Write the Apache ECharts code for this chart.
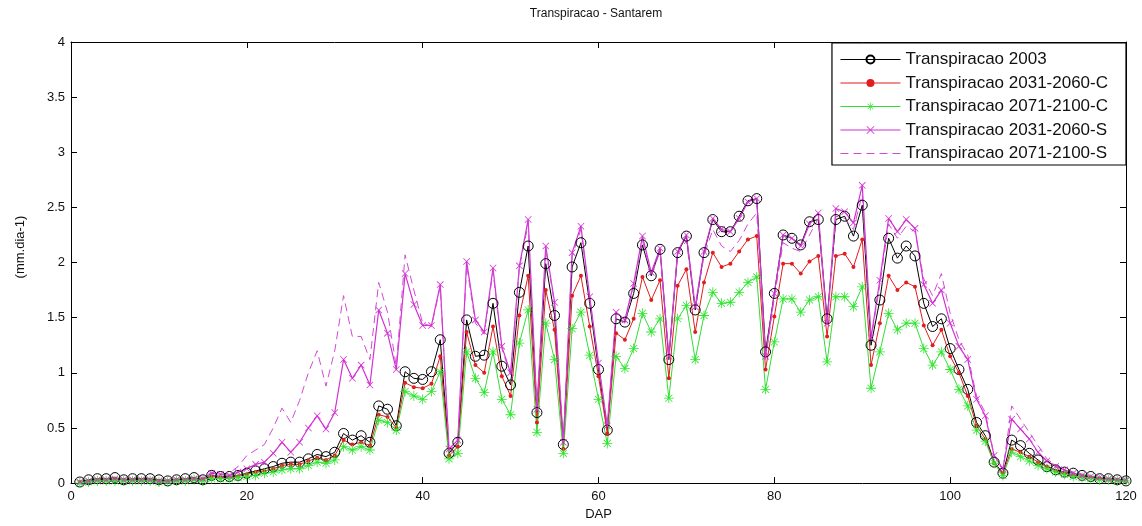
<!DOCTYPE html>
<html>
<head>
<meta charset="utf-8">
<script src="https://cdn.jsdelivr.net/npm/echarts@6/dist/echarts.min.js"></script>
<style>
  html, body { margin: 0; padding: 0; background: #fff; }
  #chart { width: 1142px; height: 526px; }
</style>
</head>
<body>
<div id="chart"></div>
<script>
// day after planting (DAP), one point per day
var days = [];
for (var d = 1; d <= 120; d++) days.push(d);

var names = [
    'Transpiracao 2003',
    'Transpiracao 2031-2060-C',
    'Transpiracao 2071-2100-C',
    'Transpiracao 2031-2060-S',
    'Transpiracao 2071-2100-S'
];

var trans2003 = [
    0.01,0.03,0.04,0.04,0.05,0.03,0.04,0.04,0.04,0.03,
    0.02,0.03,0.04,0.05,0.03,0.07,0.06,0.06,0.07,0.09,
    0.11,0.13,0.15,0.18,0.19,0.19,0.22,0.26,0.24,0.28,
    0.45,0.39,0.43,0.37,0.70,0.67,0.52,1.01,0.95,0.94,
    1.01,1.30,0.27,0.37,1.48,1.15,1.16,1.63,1.06,0.89,
    1.73,2.15,0.64,1.99,1.52,0.35,1.96,2.18,1.63,1.03,
    0.48,1.49,1.46,1.72,2.16,1.88,2.12,1.12,2.09,2.24,
    1.57,2.09,2.39,2.28,2.28,2.42,2.56,2.58,1.19,1.72,
    2.25,2.22,2.16,2.37,2.39,1.49,2.39,2.42,2.24,2.52,
    1.25,1.66,2.22,2.04,2.15,2.06,1.63,1.42,1.49,1.22,
    1.03,0.85,0.55,0.43,0.19,0.09,0.39,0.34,0.27,0.21,
    0.15,0.12,0.10,0.09,0.07,0.06,0.04,0.04,0.03,0.02
];

var trans3160C = [
    0.01,0.02,0.03,0.03,0.04,0.03,0.03,0.03,0.03,0.02,
    0.02,0.03,0.03,0.04,0.03,0.06,0.05,0.05,0.06,0.08,
    0.10,0.11,0.13,0.16,0.17,0.17,0.20,0.23,0.21,0.25,
    0.39,0.35,0.37,0.34,0.62,0.60,0.50,0.91,0.87,0.86,
    0.90,1.15,0.25,0.33,1.37,1.07,1.00,1.42,0.97,0.79,
    1.52,1.88,0.55,1.75,1.39,0.31,1.70,1.88,1.42,0.97,
    0.45,1.36,1.30,1.49,1.87,1.66,1.84,0.95,1.79,1.94,
    1.37,1.82,2.09,1.96,1.99,2.10,2.21,2.24,1.03,1.51,
    1.99,1.99,1.90,2.01,2.06,1.33,2.06,2.08,1.96,2.21,
    1.07,1.45,1.88,1.75,1.82,1.78,1.43,1.25,1.39,1.15,
    1.00,0.79,0.52,0.40,0.18,0.09,0.31,0.28,0.24,0.19,
    0.15,0.11,0.09,0.07,0.06,0.05,0.04,0.03,0.03,0.02
];

var trans71100C = [
    0.00,0.01,0.02,0.02,0.02,0.02,0.02,0.02,0.02,0.01,
    0.01,0.02,0.02,0.03,0.02,0.04,0.04,0.04,0.05,0.06,
    0.07,0.09,0.10,0.12,0.13,0.13,0.16,0.19,0.18,0.21,
    0.33,0.30,0.33,0.30,0.57,0.55,0.48,0.83,0.79,0.76,
    0.83,1.01,0.22,0.27,1.19,0.95,0.82,1.19,0.76,0.62,
    1.27,1.57,0.46,1.45,1.12,0.27,1.40,1.55,1.16,0.76,
    0.36,1.15,1.04,1.22,1.54,1.37,1.49,0.77,1.49,1.61,
    1.12,1.52,1.73,1.63,1.64,1.73,1.82,1.87,0.85,1.28,
    1.67,1.67,1.55,1.66,1.69,1.10,1.69,1.69,1.60,1.78,
    0.86,1.19,1.54,1.39,1.45,1.45,1.22,1.07,1.19,1.03,
    0.85,0.70,0.48,0.38,0.18,0.07,0.28,0.24,0.20,0.16,
    0.13,0.10,0.08,0.06,0.05,0.04,0.03,0.03,0.02,0.02
];

var trans3160S = [
    0.01,0.02,0.03,0.03,0.04,0.03,0.03,0.03,0.03,0.02,
    0.02,0.03,0.03,0.04,0.04,0.09,0.08,0.07,0.10,0.13,
    0.17,0.19,0.27,0.37,0.28,0.37,0.50,0.61,0.49,0.64,
    1.12,0.95,1.07,0.89,1.57,1.36,1.03,1.90,1.62,1.43,
    1.43,1.80,0.31,0.39,2.01,1.48,1.37,1.95,1.24,1.00,
    1.97,2.39,0.67,2.15,1.64,0.37,2.09,2.33,1.69,1.09,
    0.52,1.55,1.48,1.81,2.24,1.91,2.13,1.15,2.10,2.25,
    1.60,2.10,2.40,2.30,2.28,2.40,2.55,2.58,1.15,1.72,
    2.25,2.22,2.15,2.35,2.45,1.45,2.49,2.46,2.36,2.70,
    1.32,1.84,2.40,2.28,2.39,2.31,1.80,1.63,1.75,1.45,
    1.24,1.12,0.76,0.61,0.25,0.13,0.58,0.49,0.40,0.28,
    0.20,0.15,0.12,0.09,0.07,0.06,0.05,0.04,0.03,0.03
];

var trans71100S = [
    0.01,0.02,0.03,0.03,0.04,0.03,0.03,0.03,0.03,0.02,
    0.02,0.03,0.03,0.04,0.05,0.10,0.08,0.09,0.15,0.25,
    0.30,0.35,0.50,0.68,0.55,0.75,1.00,1.20,0.88,1.20,
    1.70,1.33,1.33,1.12,1.82,1.55,1.06,2.07,1.75,1.45,
    1.42,1.78,0.30,0.36,1.98,1.45,1.35,1.92,1.22,0.98,
    1.95,2.35,0.66,2.12,1.62,0.36,2.06,2.30,1.67,1.08,
    0.50,1.52,1.45,1.78,2.20,1.88,2.10,1.13,2.07,2.20,
    1.58,2.06,2.30,2.15,2.10,2.20,2.35,2.45,1.12,1.68,
    2.18,2.13,2.10,2.25,2.40,1.42,2.42,2.40,2.30,2.62,
    1.30,1.80,2.35,2.22,2.33,2.28,1.85,1.70,1.90,1.54,
    1.30,1.16,0.79,0.64,0.25,0.12,0.70,0.58,0.46,0.34,
    0.22,0.16,0.12,0.10,0.08,0.06,0.05,0.04,0.03,0.03
];

var FONT = "'Liberation Sans', Arial, sans-serif";
var asterisk = 'path://M9.2,0 L10.8,0 L10.8,20 L9.2,20 Z M0,9.2 L20,9.2 L20,10.8 L0,10.8 Z ' +
    'M2.4,3.5 L3.5,2.4 L17.6,16.5 L16.5,17.6 Z M16.5,2.4 L17.6,3.5 L3.5,17.6 L2.4,16.5 Z';
var cross = 'path://M0,1.5 L1.5,0 L20,18.5 L18.5,20 Z M18.5,0 L20,1.5 L1.5,20 L0,18.5 Z';
// dashed line sample for the legend (no marker on that series)
var dashIcon = 'path://M0,0 L8,0 L8,1 L0,1 Z M13,0 L21,0 L21,1 L13,1 Z M26,0 L34,0 L34,1 L26,1 Z ' +
    'M39,0 L47,0 L47,1 L39,1 Z M52,0 L60,0 L60,1 L52,1 Z';

function pairs(values) {
    var out = [];
    for (var i = 0; i < days.length; i++) out.push([days[i], values[i]]);
    return out;
}

function boxAxis(type, pos, show) {
    return {
        type: 'value',
        position: pos,
        min: 0,
        max: type === 'x' ? 120 : 4,
        interval: type === 'x' ? 20 : 0.5,
        axisLine: { show: true, onZero: false, lineStyle: { color: '#000', width: 1 } },
        axisTick: { show: true, inside: true, length: 6, lineStyle: { color: '#000' } },
        axisLabel: { show: show, color: '#111', fontFamily: FONT, fontSize: 13, margin: type === 'x' ? 7 : 6 },
        splitLine: { show: false }
    };
}

var xBottom = boxAxis('x', 'bottom', true);
xBottom.name = 'DAP';
xBottom.nameLocation = 'middle';
xBottom.nameGap = 24;
xBottom.nameTextStyle = { color: '#111', fontFamily: FONT, fontSize: 13 };

var option = {
    animation: false,
    backgroundColor: '#fff',
    grid: { left: 71, right: 16, top: 42, bottom: 38 },
    graphic: [
        { type: 'text', x: 596, y: 14,
          style: { text: 'Transpiracao - Santarem', font: '12px ' + FONT, fill: '#111', align: 'center', verticalAlign: 'middle' } },
        { type: 'text', x: 20, y: 247, rotation: Math.PI / 2,
          style: { text: '(mm.dia-1)', font: '13px ' + FONT, fill: '#111', align: 'center', verticalAlign: 'middle' } }
    ],
    legend: {
        orient: 'vertical',
        right: 16,
        top: 43,
        itemWidth: 60,
        itemHeight: 10,
        itemGap: 6.5,
        padding: [8, 18, 3, 8],
        backgroundColor: '#fff',
        borderColor: '#000',
        borderWidth: 1.2,
        lineStyle: { width: 1 },
        textStyle: { fontFamily: FONT, fontSize: 17, lineHeight: 14, color: '#111' },
        data: [
            names[0], names[1], names[2], names[3],
            { name: names[4], icon: dashIcon }
        ]
    },
    xAxis: [xBottom, boxAxis('x', 'top', false)],
    yAxis: [boxAxis('y', 'left', true), boxAxis('y', 'right', false)],
    series: [
        {
            name: names[0], type: 'line', data: pairs(trans2003),
            symbol: 'circle', symbolSize: 10,
            lineStyle: { color: '#000', width: 1 },
            itemStyle: { color: 'rgba(255,255,255,0)', borderColor: '#000', borderWidth: 1 }
        },
        {
            name: names[1], type: 'line', data: pairs(trans3160C),
            symbol: 'circle', symbolSize: 4,
            lineStyle: { color: '#e11d1d', width: 1 },
            itemStyle: { color: '#e11d1d' }
        },
        {
            name: names[2], type: 'line', data: pairs(trans71100C),
            symbol: asterisk, symbolSize: 10,
            lineStyle: { color: '#33dd33', width: 1 },
            itemStyle: { color: '#2ee62e' }
        },
        {
            name: names[3], type: 'line', data: pairs(trans3160S),
            symbol: cross, symbolSize: 7,
            lineStyle: { color: '#d22fd2', width: 1.2 },
            itemStyle: { color: '#d22fd2' }
        },
        {
            name: names[4], type: 'line', data: pairs(trans71100S),
            symbol: 'none', showSymbol: false,
            lineStyle: { color: '#d24ad2', width: 1, type: [8, 5] },
            itemStyle: { color: '#d24ad2' }
        }
    ]
};

var chart = echarts.init(document.getElementById('chart'));
chart.setOption(option);
</script>
</body>
</html>
